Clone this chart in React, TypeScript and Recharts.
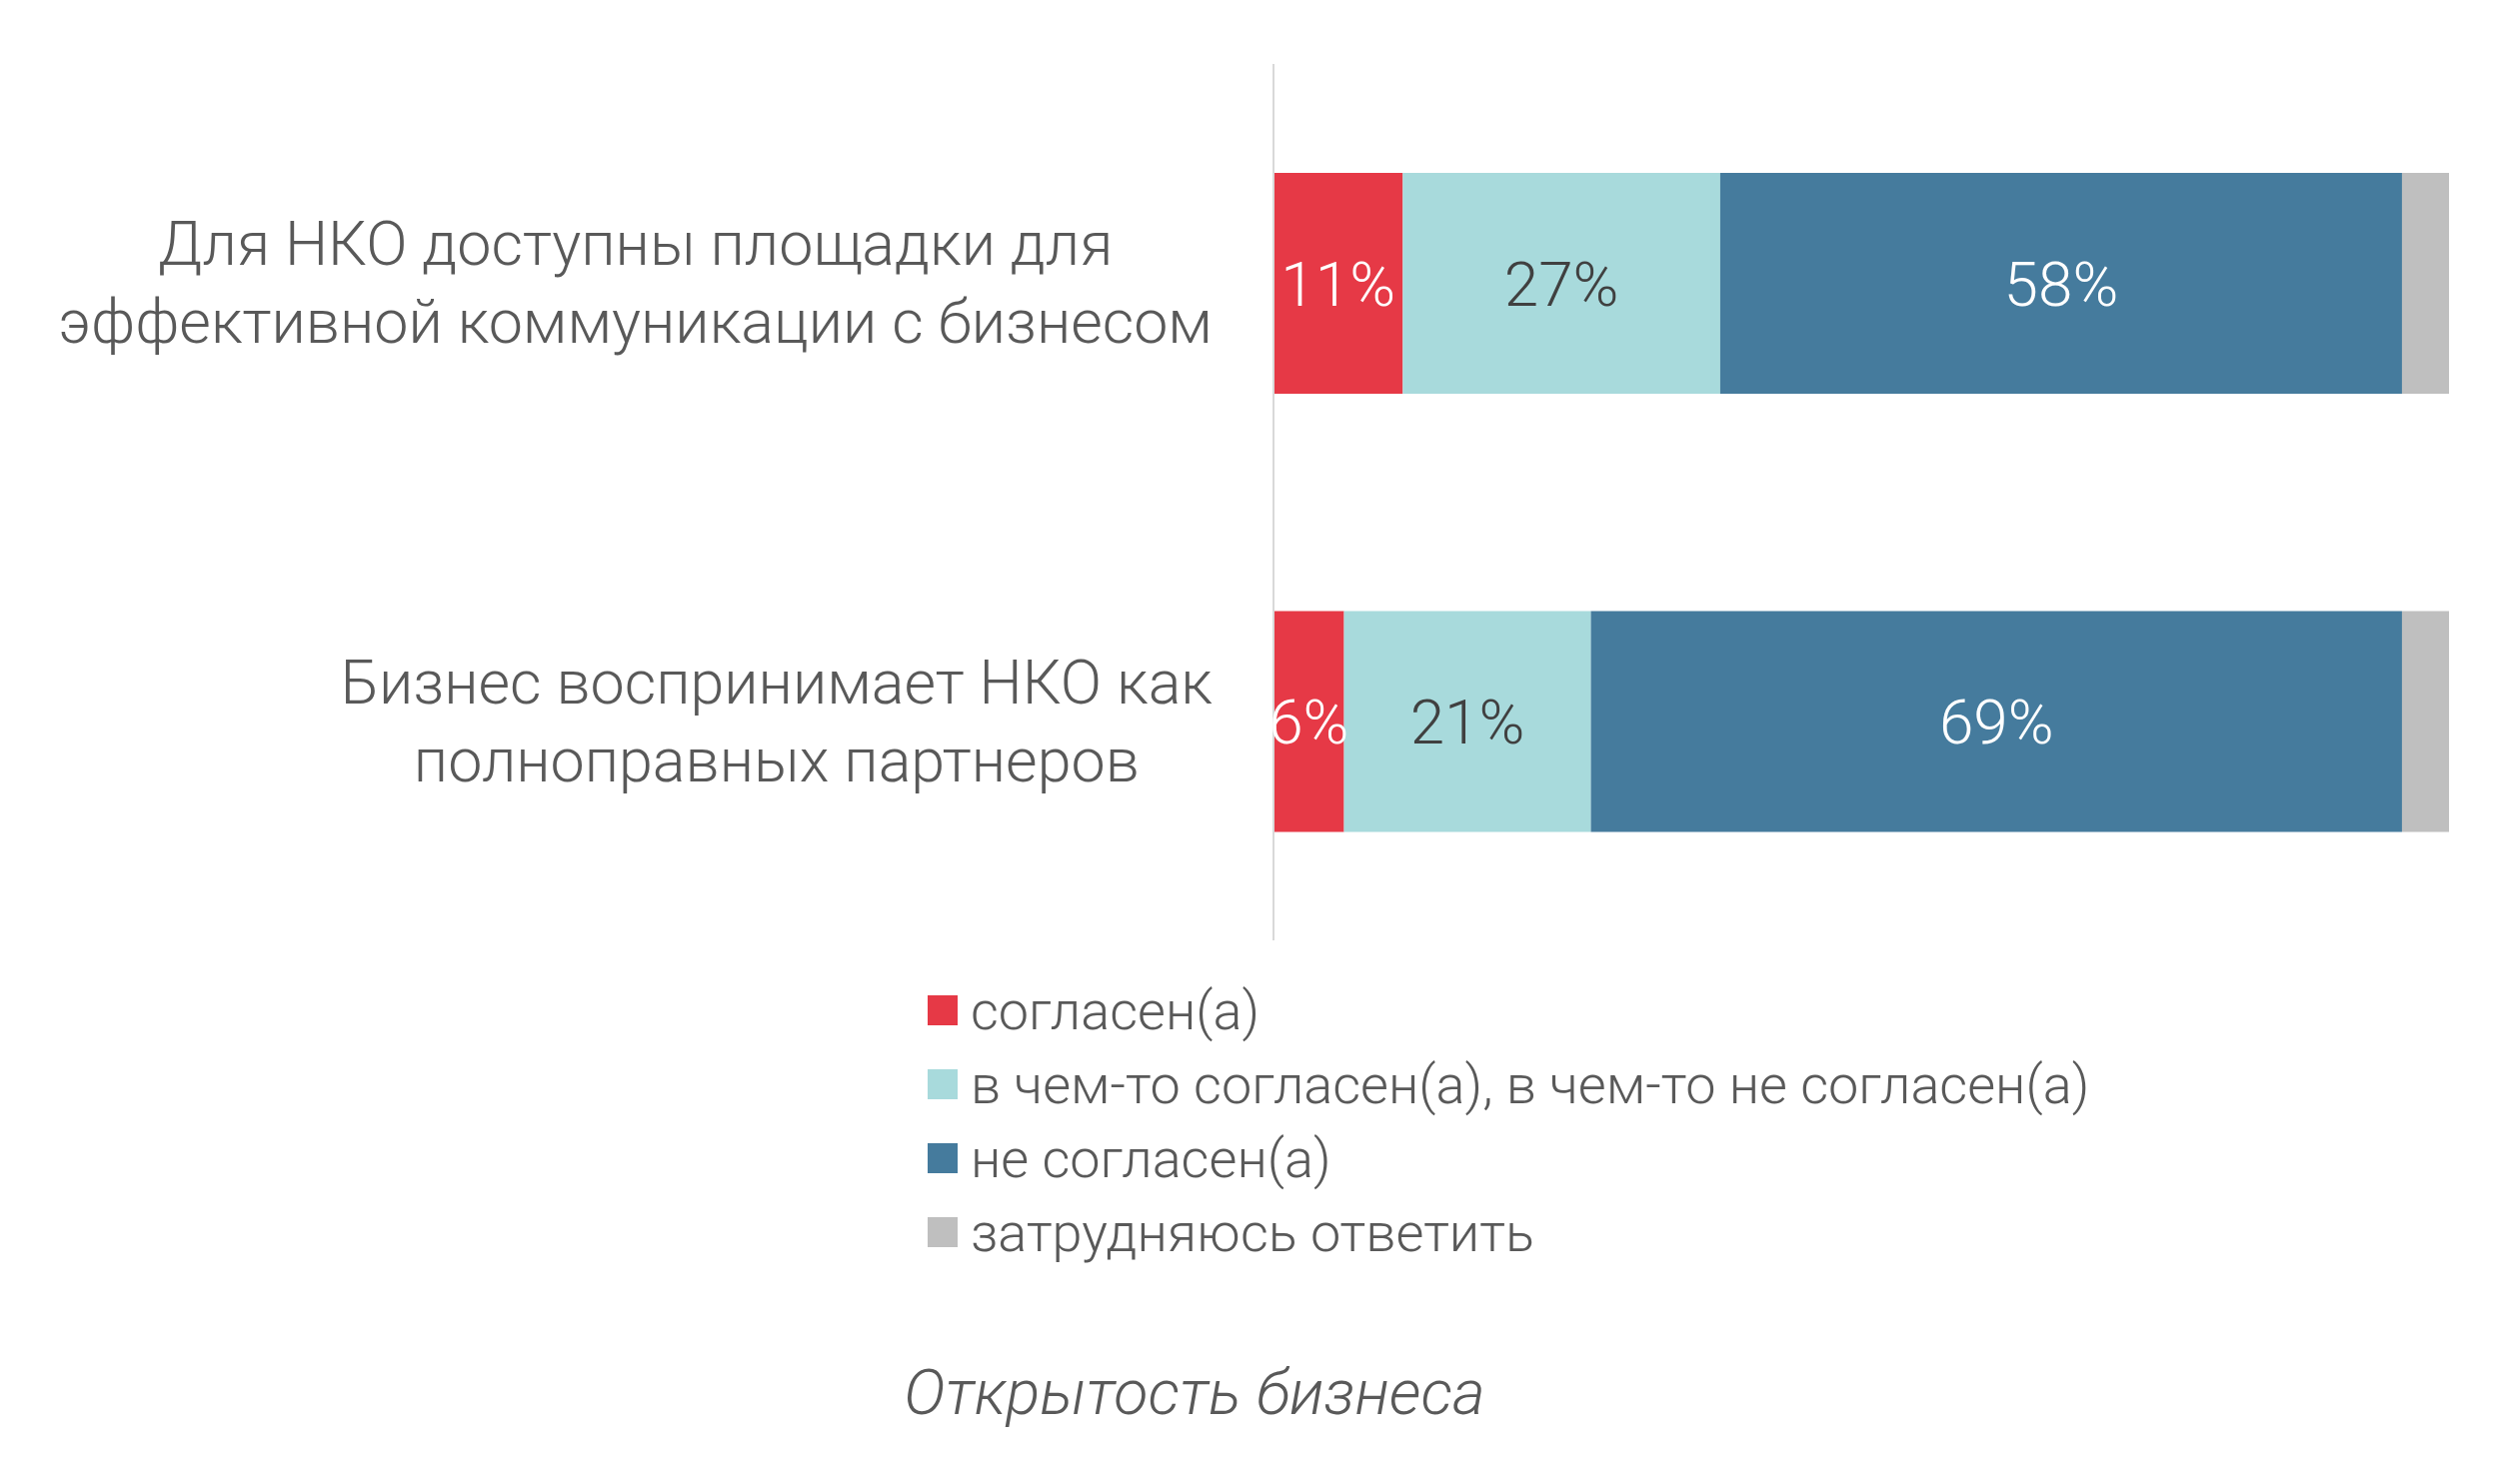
import { BarChart, Bar, XAxis, YAxis, LabelList } from "recharts";

const categories = ["НКО площадки", "Бизнес партнеры"];
const tickLines = [
  ["Для НКО доступны площадки для", "эффективной коммуникации с бизнесом"],
  ["Бизнес воспринимает НКО как", "полноправных партнеров"],
];
const agree = [11, 6];
const partly = [27, 21];
const disagree = [58, 69];
const hard = [4, 4];
const seriesNames = [
  "согласен(а)",
  "в чем-то согласен(а), в чем-то не согласен(а)",
  "не согласен(а)",
  "затрудняюсь ответить",
];
const colors = ["#E63946", "#A8DADC", "#457B9D", "#BFBFBF"];
const title = "Открытость бизнеса";

const data = categories.map((name, i) => ({
  name,
  agree: agree[i],
  partly: partly[i],
  disagree: disagree[i],
  hard: hard[i],
}));

const FONT = '"Roboto", "Liberation Sans", sans-serif';
const WEIGHT = 300;
const TEXT = "#595959";

let ctx: CanvasRenderingContext2D | null = null;
function measure(text: string, size: number) {
  if (!ctx) ctx = document.createElement("canvas").getContext("2d");
  if (!ctx) return text.length * size * 0.45;
  ctx.font = `${WEIGHT} ${size}px ${FONT}`;
  return ctx.measureText(text).width;
}

const CategoryTick = (props: any) => {
  const { x, y, index } = props;
  const lines = tickLines[index] || [];
  const size = 61;
  const widest = Math.max(...lines.map((l) => measure(l, size)));
  const cx = x - 61 - widest / 2;
  return (
    <g>
      {lines.map((l, i) => (
        <text
          key={i}
          x={cx}
          y={y + (i - (lines.length - 1) / 2) * 78}
          textAnchor="middle"
          dominantBaseline="central"
          fill={TEXT}
          fontSize={size}
          fontWeight={WEIGHT}
          fontFamily={FONT}
        >
          {l}
        </text>
      ))}
    </g>
  );
};

const pct = (v: any) => `${v}%`;

export default function App() {
  return (
    <div style={{ position: "relative", width: 2492, height: 1469 }}>
      <BarChart
        width={2492}
        height={1469}
        data={data}
        layout="vertical"
        margin={{ top: 56, right: 50, bottom: 536, left: 0 }}
      >
        <XAxis type="number" domain={[0, 100]} hide />
        <YAxis
          type="category"
          dataKey="name"
          width={1266}
          tickLine={false}
          tickSize={0}
          tickMargin={0}
          axisLine={{ stroke: "#D9D9D9", strokeWidth: 2 }}
          tick={<CategoryTick />}
          interval={0}
        />
        <Bar dataKey="agree" name={seriesNames[0]} stackId="a" fill={colors[0]} barSize={221} isAnimationActive={false}>
          <LabelList dataKey="agree" position="center" formatter={pct} fill="#FFFFFF" fontSize={62} fontWeight={WEIGHT} fontFamily={FONT} />
        </Bar>
        <Bar dataKey="partly" name={seriesNames[1]} stackId="a" fill={colors[1]} barSize={221} isAnimationActive={false}>
          <LabelList dataKey="partly" position="center" formatter={pct} fill="#404040" fontSize={62} fontWeight={WEIGHT} fontFamily={FONT} />
        </Bar>
        <Bar dataKey="disagree" name={seriesNames[2]} stackId="a" fill={colors[2]} barSize={221} isAnimationActive={false}>
          <LabelList dataKey="disagree" position="center" formatter={pct} fill="#FFFFFF" fontSize={62} fontWeight={WEIGHT} fontFamily={FONT} />
        </Bar>
        <Bar dataKey="hard" name={seriesNames[3]} stackId="a" fill={colors[3]} barSize={221} isAnimationActive={false} />
      </BarChart>
      <div
        style={{
          position: "absolute",
          left: 920,
          top: 966,
          fontFamily: FONT,
          fontWeight: WEIGHT,
          color: TEXT,
          fontSize: 54,
        }}
      >
        {seriesNames.map((n, i) => (
          <div key={n} style={{ display: "flex", alignItems: "center", height: 74 }}>
            <span
              style={{
                width: 30,
                height: 30,
                background: colors[i],
                display: "inline-block",
                marginRight: 13,
              }}
            />
            <span>{n}</span>
          </div>
        ))}
      </div>
      <div
        style={{
          position: "absolute",
          left: 0,
          width: 2374,
          top: 1349,
          textAlign: "center",
          fontFamily: FONT,
          fontWeight: WEIGHT,
          fontStyle: "italic",
          fontSize: 63,
          color: TEXT,
        }}
      >
        {title}
      </div>
    </div>
  );
}
